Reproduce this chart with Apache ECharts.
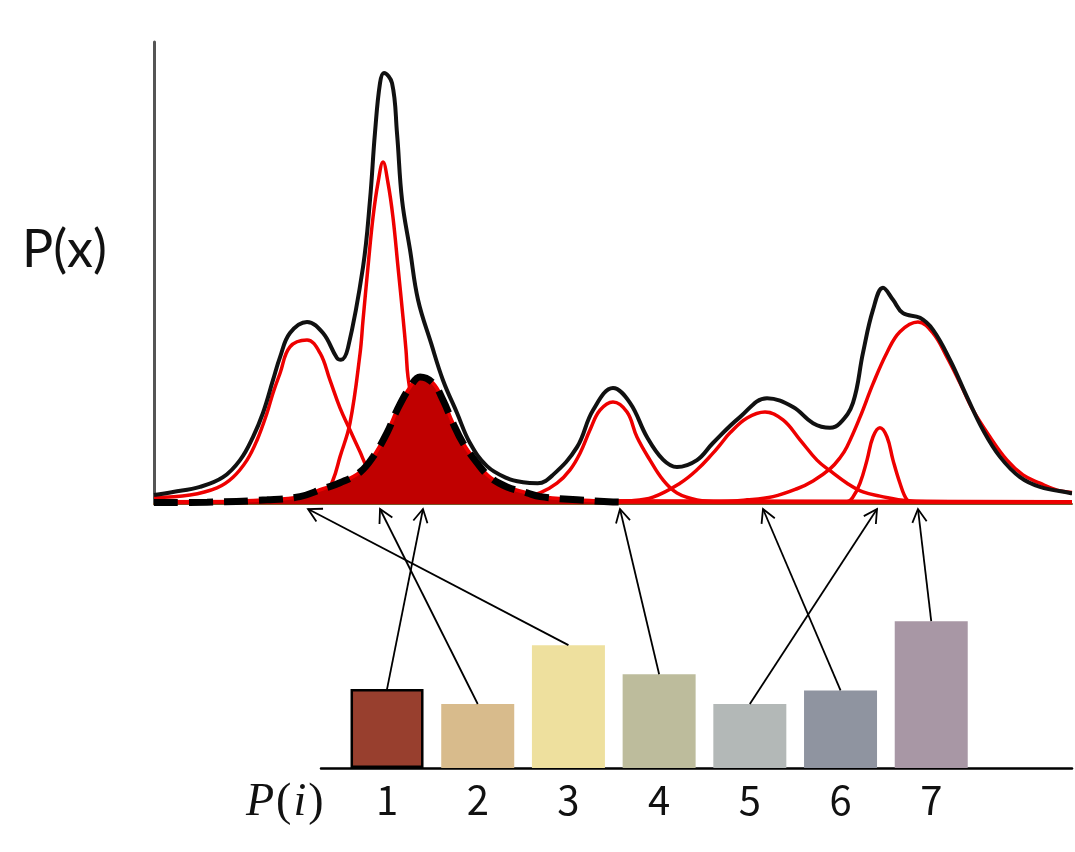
<!DOCTYPE html>
<html><head><meta charset="utf-8">
<script src="https://cdn.jsdelivr.net/npm/echarts@6/dist/echarts.min.js"></script>
<style>html,body{margin:0;padding:0;background:#fff}#c{width:1075px;height:852px}</style>
</head><body><div id="c"></div>
<script>
// Component curves of the mixture P(x): [x, density]
const compA=[[0,1.4],[3.92,1.95],[6.86,3.5],[8.61,5.8],[10.13,9.5],[11.22,13.8],[12.31,19.7],[12.96,24.0],[13.73,28.3],[14.81,34.0],[16.67,35.5],[18.08,32.7],[19.17,26.8],[20.26,20.8],[21.35,16.0],[22.44,11.3],[23.2,8.0],[24.62,4.1],[26.8,1.7],[30.07,0.9],[35,0.6],[100,0.5]];
const compB=[[0,0.5],[15.9,0.6],[18.41,1.5],[19.5,5.2],[20.26,10.2],[21.35,17.5],[22.44,32.5],[22.77,39.8],[23.31,51.3],[23.86,62.1],[24.4,69.5],[24.95,74.0],[25.49,69.5],[26.03,62.1],[26.58,51.3],[27.12,40.5],[27.45,33.3],[27.67,27.5],[28.43,18.6],[29.52,8.5],[31.15,2.6],[34.42,0.8],[100,0.5]];
const compC=[[0,0.3],[5.77,0.4],[12.31,0.9],[15.9,1.6],[18.41,3.3],[20.26,4.6],[22.44,6.9],[23.86,10.2],[25.38,15.4],[26.47,20.3],[27.89,25.3],[28.98,27.5],[30.39,26.2],[31.48,22.5],[32.57,17.5],[33.66,13.2],[35.19,8.9],[36.6,5.8],[38.45,3.7],[40.63,2.4],[42.05,1.6],[46.08,0.9],[50.0,0.45],[50.87,0.4]];
const compD=[[0,0.5],[35,0.5],[39.87,1.3],[42.05,2.4],[43.9,4.5],[45.32,7.4],[46.41,11.0],[47.49,16.0],[48.58,20.3],[50.0,22.1],[51.53,19.9],[52.61,14.5],[54.03,9.5],[55.45,5.2],[56.97,2.4],[59.15,0.9],[61.66,0.5],[100,0.5]];
const compE=[[0,0.5],[48.58,0.5],[51.85,0.7],[54.36,1.5],[57.3,4.5],[59.15,7.4],[60.89,11.0],[61.66,12.8],[62.75,15.4],[64.6,18.6],[66.56,19.9],[68.52,18.2],[70.37,13.9],[72.22,9.5],[73.64,7.2],[75.49,4.5],[77.23,2.6],[79.08,1.7],[82.03,0.7],[86.71,0.5],[100,0.5]];
const compF=[[0,0.5],[75.49,0.5],[76.14,1.5],[76.91,4.5],[77.67,9.5],[78.32,14.5],[79.08,16.5],[79.85,14.5],[80.5,9.5],[81.26,4.5],[82.03,0.9],[82.68,0.5],[100,0.5]];
const compG=[[0,0.5],[60.89,0.5],[64.6,0.9],[67.43,1.6],[70.04,3.3],[71.79,5.0],[73.64,7.6],[74.73,10.0],[75.49,12.4],[76.91,18.8],[78.32,26.0],[79.85,32.8],[81.26,37.3],[83.22,39.4],[84.86,37.0],[86.38,31.8],[87.8,26.2],[89.22,20.3],[91.07,14.5],[92.92,9.5],[94.66,6.3],[96.51,4.5],[98.37,3.0],[100,2.5]];
// Total mixture density
const sumCurve=[[0,1.95],[2.07,2.6],[5.01,3.7],[7.52,5.8],[9.37,9.5],[10.78,14.5],[11.87,19.7],[12.96,26.8],[13.73,31.8],[14.81,37.0],[16.67,39.4],[18.41,37.0],[19.93,31.6],[20.37,31.2],[21.13,33.8],[22.77,51.3],[23.53,65.8],[24.07,80.3],[24.62,91.1],[25.05,93.3],[25.93,91.1],[26.47,80.3],[27.02,65.8],[27.89,55.0],[28.76,44.2],[30.2,34.7],[31.48,26.8],[33.01,19.7],[34.42,13.2],[36.27,8.2],[38.45,5.6],[40.2,4.7],[41.8,4.5],[43.46,6.3],[46.08,12.3],[47.82,20.3],[50.0,25.1],[51.85,21.9],[53.7,14.5],[55.45,9.6],[56.97,8.0],[59.15,9.5],[60.89,13.2],[63.83,18.8],[66.78,22.9],[69.61,21.0],[71.79,17.5],[73.64,16.5],[74.73,17.5],[76.14,21.9],[77.23,32.7],[78.32,42.0],[79.41,46.8],[80.5,44.2],[81.59,41.3],[83.44,40.3],[84.86,37.7],[86.71,31.2],[88.56,23.2],[90.31,16.0],[92.16,10.2],[94.34,5.8],[96.51,3.7],[99.78,2.4],[100,2.35]];

// Mixture weights P(i)
const barCategories=['1','2','3','4','5','6','7'];
const barValues=[0.122,0.099,0.19,0.145,0.099,0.12,0.227];
const barColors=['#983f2e','#d8bb8c','#eee09e','#bdbc9c','#b3b8b7','#8f94a0','#a897a5'];
// x position (in P(x) axis units) each bar's arrow points to
const arrowTargets=[29.3,24.62,16.78,50.76,78.76,66.34,83.22];

const chart=echarts.init(document.getElementById('c'),null,{renderer:'canvas'});
const RED='#ee0000';
const redLine=(data,z)=>({type:'line',xAxisIndex:0,yAxisIndex:0,data:data,smooth:0.4,symbol:'none',silent:true,lineStyle:{color:RED,width:3.5},z:z||2});
const option={
  animation:false,
  title:[
    {text:'P(x)',left:22,top:224,padding:0,textStyle:{fontFamily:'Lato',fontSize:52,fontWeight:'normal',color:'#111'}},
    {text:'{a|P}{b|(}{a|i}{b|)}',left:246,top:780,padding:0,textStyle:{fontWeight:'normal',rich:{
      a:{fontFamily:'Liberation Serif',fontStyle:'italic',fontWeight:'normal',fontSize:46,color:'#111'},
      b:{fontFamily:'Liberation Serif',fontWeight:'normal',fontSize:46,color:'#111',padding:[0,2,0,2]}}}}
  ],
  grid:[{left:154,right:3,top:42,bottom:348},{left:321,right:3,top:574,bottom:84}],
  xAxis:[
    {type:'value',gridIndex:0,min:0,max:100,axisLine:{show:true,onZero:false,lineStyle:{color:'#7a5428',width:2}},axisTick:{show:false},axisLabel:{show:false},splitLine:{show:false}},
    {type:'value',gridIndex:1,min:0.272,max:8.552,axisLine:{show:true,onZero:false,lineStyle:{color:'#000',width:2.5}},axisTick:{show:false},splitLine:{show:false},
     axisLabel:{customValues:[1,2,3,4,5,6,7],formatter:function(v){return barCategories[Math.round(v)-1];},fontSize:40,color:'#111',fontFamily:'Noto Sans CJK SC',margin:12}}
  ],
  yAxis:[
    {type:'value',gridIndex:0,min:0,max:100,axisLine:{show:true,lineStyle:{color:'#555',width:3}},axisTick:{show:false},axisLabel:{show:false},splitLine:{show:false}},
    {type:'value',gridIndex:1,min:0,max:0.3,show:false,splitLine:{show:false}}
  ],
  series:[
    redLine(compA),redLine(compB),redLine(compD),redLine(compE),redLine(compF),redLine(compG),
    {type:'line',xAxisIndex:0,yAxisIndex:0,data:compC,smooth:0.4,symbol:'none',silent:true,lineStyle:{color:RED,width:3.5},areaStyle:{color:'#c00000',opacity:1},z:3},
    {type:'line',xAxisIndex:0,yAxisIndex:0,data:compC,smooth:0.4,symbol:'none',silent:true,lineStyle:{color:'#000',width:7,type:[24,11],cap:'butt'},z:4},
    {type:'line',xAxisIndex:0,yAxisIndex:0,data:sumCurve,smooth:0.4,symbol:'none',silent:true,lineStyle:{color:'#111',width:4},z:5},
    {type:'bar',xAxisIndex:1,yAxisIndex:1,barWidth:73,silent:true,
     data:barValues.map(function(v,i){return {value:[i+1,v],itemStyle:{color:barColors[i],borderColor:i===0?'#000':'transparent',borderWidth:i===0?2.5:0}};})}
  ]
};
chart.setOption(option);

const g=[];
barValues.forEach(function(v,i){
  const s=chart.convertToPixel({gridIndex:1},[i+1,v]);
  const e=chart.convertToPixel({gridIndex:0},[arrowTargets[i],0]);
  e[1]+=5;
  const dx=s[0]-e[0],dy=s[1]-e[1],L=Math.hypot(dx,dy),ux=dx/L,uy=dy/L;
  const len=15,a=0.5;
  const rot=function(ang){return [e[0]+len*(ux*Math.cos(ang)-uy*Math.sin(ang)),e[1]+len*(ux*Math.sin(ang)+uy*Math.cos(ang))];};
  g.push({type:'line',silent:true,shape:{x1:s[0],y1:s[1],x2:e[0],y2:e[1]},style:{stroke:'#000',lineWidth:1.8},z:10});
  g.push({type:'polyline',silent:true,shape:{points:[rot(a),e,rot(-a)]},style:{stroke:'#000',lineWidth:1.8,fill:null},z:10});
});
chart.setOption({graphic:g});
</script></body></html>
